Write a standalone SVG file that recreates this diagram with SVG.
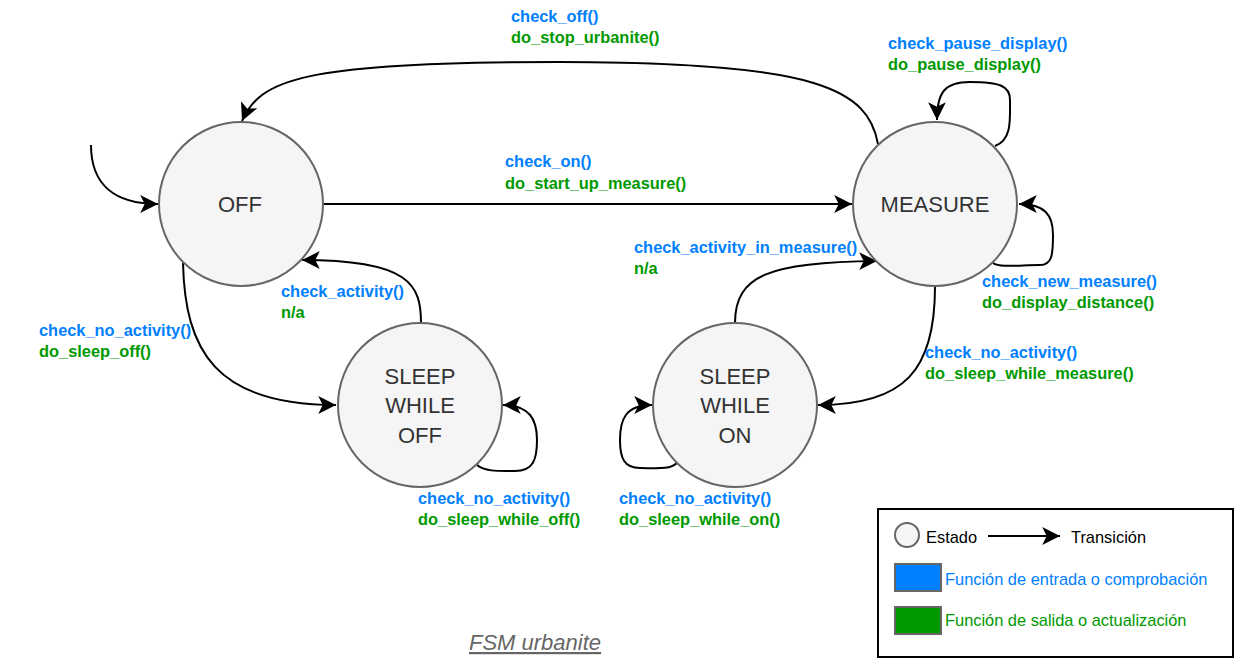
<svg xmlns="http://www.w3.org/2000/svg" width="1245" height="664" viewBox="0 0 1245 664">
  <style>
    .state { fill: #f5f5f5; stroke: #666666; stroke-width: 2; }
    .state-label { font-family: "Liberation Sans", Arial, sans-serif; font-size: 22px; fill: #333333; text-anchor: middle; }
    .edge { fill: none; stroke: #000000; stroke-width: 2; }
    .lbl { font-family: "Liberation Sans", Arial, sans-serif; font-size: 16.4px; font-weight: bold; }
    .chk { fill: #007fff; }
    .act { fill: #009900; }
    .legend-text { font-family: "Liberation Sans", Arial, sans-serif; font-size: 16.4px; }
  </style>
  <defs>
    <marker id="arrow" markerUnits="userSpaceOnUse" markerWidth="20" markerHeight="20" viewBox="-17 -9 18 18" refX="0" refY="0" orient="auto">
      <path d="M0,0 L-16,-8 L-12,0 L-16,8 Z" fill="#000000"/>
    </marker>
  </defs>

  <rect width="1245" height="664" fill="#ffffff"/>

  <!-- transitions -->
  <g id="connectors">
    <path class="edge" marker-end="url(#arrow)" d="M91,145 C91,185 115,204 158,204"/>
    <path class="edge" marker-end="url(#arrow)" d="M878,144 C868,90 820,62 560,62 C300,62 260,80 242,121"/>
    <path class="edge" marker-end="url(#arrow)" d="M323,204 L852,204"/>
    <path class="edge" marker-end="url(#arrow)" d="M995,146 C1012,140 1010,120 1010,100 C1010,86 1000,82 970,82 C945,82 937,92 937,120"/>
    <path class="edge" marker-end="url(#arrow)" d="M993,263 C1000,268 1020,265 1040,265 C1052,265 1053,255 1053,235 C1053,215 1045,204 1019,204"/>
    <path class="edge" marker-end="url(#arrow)" d="M183,263 C185,350 215,405 336,405"/>
    <path class="edge" marker-end="url(#arrow)" d="M421,323 C421,285 410,260 302,260"/>
    <path class="edge" marker-end="url(#arrow)" d="M477,465 C485,472 500,471 515,471 C533,471 537,460 537,440 C537,420 530,405 503,405"/>
    <path class="edge" marker-end="url(#arrow)" d="M935,287 C935,370 905,405 818,405"/>
    <path class="edge" marker-end="url(#arrow)" d="M735,323 C735,275 770,262 877,261"/>
    <path class="edge" marker-end="url(#arrow)" d="M677,463 C670,470 655,468 640,468 C624,468 620,458 620,440 C620,420 625,405 652,405"/>
  </g>

  <!-- transition labels -->
  <g id="labels" class="lbl">
    <text x="511" y="22" class="chk">check_off()</text>
    <text x="511" y="43" class="act">do_stop_urbanite()</text>
    <text x="888" y="49" class="chk">check_pause_display()</text>
    <text x="888" y="70" class="act">do_pause_display()</text>
    <text x="505" y="167" class="chk">check_on()</text>
    <text x="505" y="189" class="act">do_start_up_measure()</text>
    <text x="634" y="253" class="chk">check_activity_in_measure()</text>
    <text x="634" y="274" class="act">n/a</text>
    <text x="982" y="287" class="chk">check_new_measure()</text>
    <text x="982" y="308" class="act">do_display_distance()</text>
    <text x="281" y="297" class="chk">check_activity()</text>
    <text x="281" y="318" class="act">n/a</text>
    <text x="39" y="336" class="chk">check_no_activity()</text>
    <text x="39" y="357" class="act">do_sleep_off()</text>
    <text x="925" y="358" class="chk">check_no_activity()</text>
    <text x="925" y="379" class="act">do_sleep_while_measure()</text>
    <text x="418" y="504" class="chk">check_no_activity()</text>
    <text x="418" y="525" class="act">do_sleep_while_off()</text>
    <text x="619" y="504" class="chk">check_no_activity()</text>
    <text x="619" y="525" class="act">do_sleep_while_on()</text>
  </g>

  <!-- states -->
  <g id="off">
    <circle class="state" cx="241" cy="204" r="82"/>
    <text class="state-label" x="240" y="212">OFF</text>
  </g>
  <g id="measure">
    <circle class="state" cx="935" cy="204" r="82"/>
    <text class="state-label" x="935" y="212">MEASURE</text>
  </g>
  <g id="sleep-while-off">
    <circle class="state" cx="420" cy="405" r="82"/>
    <text class="state-label" x="420" y="384">SLEEP</text>
    <text class="state-label" x="420" y="413">WHILE</text>
    <text class="state-label" x="420" y="443">OFF</text>
  </g>
  <g id="sleep-while-on">
    <circle class="state" cx="735" cy="405" r="82"/>
    <text class="state-label" x="735" y="384">SLEEP</text>
    <text class="state-label" x="735" y="413">WHILE</text>
    <text class="state-label" x="735" y="443">ON</text>
  </g>

  <!-- legend -->
  <g id="legend">
    <rect x="878" y="509" width="355" height="148" fill="#ffffff" stroke="#000000" stroke-width="2"/>
    <circle class="state" cx="907" cy="535" r="12"/>
    <text class="legend-text" x="926" y="543" fill="#000000">Estado</text>
    <path class="edge" marker-end="url(#arrow)" d="M988,536 L1060,536"/>
    <text class="legend-text" x="1071" y="543" fill="#000000">Transición</text>
    <rect x="895" y="564" width="46" height="27" fill="#007fff" stroke="#666666" stroke-width="2"/>
    <text class="legend-text" x="945" y="585" fill="#007fff">Función de entrada o comprobación</text>
    <rect x="895" y="607" width="46" height="27" fill="#009900" stroke="#666666" stroke-width="2"/>
    <text class="legend-text" x="945" y="626" fill="#009900">Función de salida o actualización</text>
  </g>

  <!-- caption -->
  <g id="caption">
    <text x="535" y="650" text-anchor="middle" font-family="Liberation Sans, Arial, sans-serif" font-size="22" font-style="italic" text-decoration="underline" fill="#666666">FSM urbanite</text>
  </g>
</svg>
